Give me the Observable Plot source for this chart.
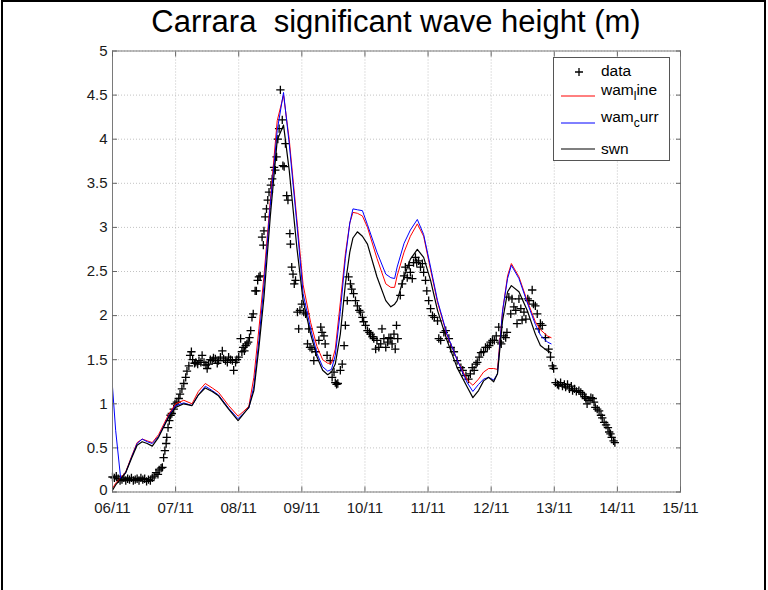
<!DOCTYPE html>
<html>
<head>
<meta charset="utf-8">
<script src="https://cdn.jsdelivr.net/npm/d3@7"></script>
<script src="https://cdn.jsdelivr.net/npm/@observablehq/plot@0.6"></script>
<style>
  body { margin: 0; background: #fff; }
  #wrap { position: relative; width: 768px; height: 590px; overflow: hidden; background: #fff;
          font-family: "Liberation Sans", Arial, Helvetica, sans-serif; }
  #border { position: absolute; left: 1px; top: 0; width: 761px; height: 620px;
            border: 2px solid #000; border-bottom: none; box-sizing: content-box; }
  #title { position: absolute; left: 112px; width: 568px; top: 4px; text-align: center;
           font-size: 31px; line-height: 36px; white-space: pre; color: #000; }
  #chart { position: absolute; left: 0; top: 0; }
  #legend { position: absolute; left: 553px; top: 57px; }
</style>
</head>
<body>
<div id="wrap">
  <div id="chart"></div>
  <div id="title">Carrara  significant wave height (m)</div>
  <svg id="legend" width="118" height="105" xmlns="http://www.w3.org/2000/svg"
       style="font-family:'Liberation Sans', Arial, sans-serif; font-size:15.5px;">
    <rect x="0.5" y="0.5" width="116" height="103" fill="#fff" stroke="#555" stroke-width="1"/>
    <path d="M22,15H30M26,11V19" stroke="#000" stroke-width="1.3" fill="none"/>
    <text x="48" y="19" fill="#000">data</text>
    <line x1="8" x2="42" y1="39" y2="39" stroke="#ff0000" stroke-width="1"/>
    <text x="48" y="38" fill="#000">wam<tspan dy="5" font-size="12">l</tspan><tspan dy="-5">ine</tspan></text>
    <line x1="8" x2="42" y1="66" y2="66" stroke="#0000ff" stroke-width="1"/>
    <text x="48" y="65" fill="#000">wam<tspan dy="5" font-size="12">c</tspan><tspan dy="-5">urr</tspan></text>
    <line x1="8" x2="42" y1="92" y2="92" stroke="#000" stroke-width="1.2"/>
    <text x="48" y="97" fill="#000">swn</text>
  </svg>
  <div id="border"></div>
</div>
<script>
// ---- axis ticks ----
const xTicks = [0, 1, 2, 3, 4, 5, 6, 7, 8, 9];
const xTickLabels = ["06/11", "07/11", "08/11", "09/11", "10/11", "11/11", "12/11", "13/11", "14/11", "15/11"];
const yTicks = [0, 0.5, 1, 1.5, 2, 2.5, 3, 3.5, 4, 4.5, 5];
const yTickLabels = ["0", "0.5", "1", "1.5", "2", "2.5", "3", "3.5", "4", "4.5", "5"];

// ---- observed data (days since 06/11 00:00, Hs in m) ----
const dataT = [0.00,0.03,0.06,0.09,0.12,0.15,0.18,0.21,0.24,0.27,0.30,0.33,0.36,0.39,0.42,0.45,0.48,0.51,0.54,0.57,0.60,0.63,0.66,0.69,0.72,0.74,0.77,0.79,0.81,0.83,0.85,0.86,0.88,0.90,0.92,0.94,0.97,0.99,1.02,1.05,1.07,1.10,1.13,1.16,1.18,1.21,1.23,1.25,1.27,1.30,1.32,1.35,1.37,1.40,1.42,1.45,1.48,1.50,1.52,1.55,1.58,1.60,1.63,1.66,1.68,1.71,1.74,1.76,1.79,1.82,1.84,1.87,1.90,1.92,1.95,1.97,2.00,2.03,2.05,2.07,2.09,2.11,2.13,2.15,2.17,2.19,2.21,2.23,2.26,2.28,2.30,2.32,2.34,2.37,2.39,2.40,2.42,2.44,2.46,2.48,2.51,2.53,2.56,2.58,2.60,2.62,2.64,2.66,2.69,2.70,2.72,2.74,2.76,2.78,2.81,2.82,2.84,2.86,2.88,2.90,2.93,2.95,2.97,3.00,3.03,3.06,3.09,3.11,3.13,3.16,3.19,3.22,3.27,3.30,3.32,3.35,3.37,3.40,3.45,3.48,3.51,3.53,3.55,3.57,3.61,3.64,3.67,3.69,3.72,3.74,3.77,3.79,3.82,3.85,3.88,3.91,3.93,3.96,3.98,4.01,4.04,4.07,4.09,4.12,4.14,4.17,4.19,4.22,4.25,4.27,4.30,4.33,4.36,4.38,4.41,4.43,4.46,4.48,4.50,4.52,4.56,4.59,4.62,4.64,4.67,4.70,4.72,4.75,4.77,4.80,4.82,4.85,4.88,4.91,4.93,4.96,4.98,5.01,5.04,5.07,5.10,5.15,5.17,5.20,5.25,5.28,5.33,5.36,5.41,5.46,5.52,5.55,5.60,5.64,5.67,5.70,5.73,5.76,5.78,5.81,5.84,5.88,5.91,5.94,5.97,5.99,6.02,6.05,6.08,6.12,6.14,6.16,6.20,6.23,6.25,6.28,6.31,6.33,6.36,6.39,6.41,6.44,6.47,6.49,6.52,6.55,6.58,6.60,6.65,6.67,6.70,6.73,6.76,6.78,6.81,6.86,6.91,6.94,6.97,6.99,7.02,7.05,7.07,7.10,7.13,7.16,7.18,7.21,7.24,7.27,7.29,7.32,7.35,7.39,7.42,7.45,7.48,7.50,7.52,7.55,7.58,7.61,7.63,7.65,7.68,7.71,7.74,7.76,7.79,7.82,7.85,7.87,7.89,7.91,7.94,7.96];
const dataH = [0.17,0.16,0.18,0.15,0.13,0.14,0.16,0.13,0.15,0.14,0.16,0.13,0.14,0.15,0.13,0.16,0.14,0.15,0.12,0.14,0.13,0.16,0.18,0.22,0.20,0.25,0.27,0.28,0.39,0.47,0.55,0.62,0.73,0.81,0.87,0.89,0.94,1.00,1.02,1.06,1.11,1.17,1.23,1.30,1.37,1.43,1.55,1.59,1.50,1.46,1.47,1.45,1.49,1.47,1.55,1.47,1.44,1.40,1.45,1.50,1.49,1.52,1.51,1.46,1.49,1.53,1.60,1.51,1.49,1.47,1.53,1.50,1.49,1.38,1.47,1.50,1.53,1.74,1.59,1.64,1.60,1.66,1.68,1.70,1.75,1.83,1.98,2.02,2.28,2.28,2.40,2.44,2.45,2.89,2.80,2.96,3.12,3.21,3.31,3.40,3.48,3.55,3.68,3.65,3.80,4.00,4.12,4.56,4.22,3.70,3.69,3.95,3.36,3.31,2.93,2.81,2.55,2.47,2.36,2.40,2.04,1.85,2.06,2.13,2.04,2.02,1.68,1.85,1.64,1.62,1.49,1.59,1.72,1.87,1.81,1.77,1.68,1.55,1.49,1.30,1.36,1.24,1.22,1.23,1.38,1.45,1.66,1.89,2.17,2.44,2.36,2.30,2.25,2.17,2.11,2.06,2.04,1.98,1.93,1.89,1.83,1.81,1.79,1.76,1.74,1.62,1.72,1.64,1.68,1.85,1.74,1.64,1.70,1.75,1.74,1.68,1.79,1.62,1.89,1.74,2.23,2.36,2.45,2.55,2.43,2.57,2.49,2.42,2.60,2.66,2.60,2.62,2.55,2.59,2.49,2.40,2.28,2.17,2.08,2.00,1.98,1.94,1.74,1.72,1.81,1.83,1.74,1.64,1.59,1.49,1.41,1.38,1.32,1.28,1.34,1.41,1.38,1.45,1.47,1.53,1.58,1.59,1.64,1.64,1.66,1.70,1.72,1.72,1.77,1.87,1.70,1.68,1.77,1.75,1.81,2.21,2.02,2.19,2.10,2.06,1.91,2.19,2.08,1.95,2.04,1.96,2.19,2.17,2.29,2.13,2.11,2.02,1.85,1.91,1.89,1.75,1.62,1.53,1.43,1.40,1.24,1.22,1.21,1.24,1.20,1.22,1.19,1.22,1.17,1.20,1.15,1.17,1.14,1.15,1.13,1.11,1.08,1.06,1.00,1.04,1.07,1.06,1.02,0.96,0.94,0.92,0.87,0.84,0.79,0.76,0.73,0.68,0.66,0.62,0.58,0.56];

// ---- model series (common time grid, days since 06/11) ----
const modelT  = [0.00,0.05,0.13,0.21,0.30,0.39,0.47,0.55,0.63,0.73,0.89,1.00,1.13,1.26,1.36,1.47,1.58,1.68,1.84,1.99,2.07,2.16,2.24,2.32,2.40,2.50,2.61,2.71,2.80,2.92,3.02,3.14,3.24,3.33,3.41,3.47,3.53,3.61,3.69,3.76,3.81,3.88,3.96,4.04,4.19,4.33,4.41,4.47,4.51,4.62,4.72,4.83,4.93,5.04,5.15,5.30,5.46,5.62,5.71,5.80,5.88,5.96,6.04,6.10,6.18,6.26,6.32,6.44,6.57,6.70,6.78,6.89,6.95];
const swn     = [0.02,0.08,0.15,0.22,0.38,0.53,0.57,0.55,0.52,0.62,0.85,0.96,1.00,0.98,1.10,1.18,1.14,1.09,0.94,0.81,0.88,0.96,1.15,1.64,2.21,3.12,3.99,4.16,3.65,2.78,2.17,1.79,1.53,1.38,1.33,1.36,1.45,1.79,2.36,2.72,2.88,2.95,2.90,2.81,2.44,2.17,2.10,2.13,2.17,2.44,2.64,2.75,2.66,2.40,2.06,1.72,1.41,1.19,1.07,1.15,1.26,1.30,1.25,1.34,1.94,2.27,2.34,2.27,2.06,1.79,1.66,1.60,1.58];
const wamLine = [0.04,0.10,0.16,0.23,0.40,0.56,0.60,0.58,0.56,0.65,0.88,1.00,1.04,1.00,1.14,1.23,1.18,1.13,0.98,0.86,0.91,0.97,1.30,1.85,2.45,3.30,4.21,4.50,4.00,3.10,2.35,1.92,1.65,1.50,1.46,1.46,1.62,2.15,2.70,3.05,3.17,3.16,3.13,3.00,2.65,2.36,2.32,2.32,2.45,2.72,2.90,3.04,2.90,2.52,2.15,1.78,1.50,1.27,1.21,1.28,1.36,1.40,1.40,1.39,2.05,2.45,2.59,2.44,2.17,1.93,1.84,1.77,1.75];
const wamCurr = [1.19,0.70,0.15,0.22,0.39,0.55,0.60,0.57,0.55,0.63,0.86,0.98,1.01,0.98,1.10,1.20,1.15,1.10,0.95,0.83,0.89,0.95,1.20,1.72,2.35,3.25,4.10,4.53,3.95,3.05,2.25,1.85,1.57,1.42,1.37,1.39,1.55,2.05,2.65,3.05,3.21,3.20,3.19,3.03,2.72,2.47,2.43,2.42,2.55,2.82,2.97,3.09,2.92,2.55,2.17,1.79,1.50,1.24,1.14,1.22,1.28,1.30,1.27,1.34,2.05,2.42,2.57,2.42,2.15,1.90,1.78,1.70,1.68];

const obs = dataT.map((t, i) => ({t, h: dataH[i]}));
const model = modelT.map((t, i) => ({t, swn: swn[i], line: wamLine[i], curr: wamCurr[i]}));

const gridStyle = {stroke: "#b4b4b4", strokeOpacity: 1, strokeWidth: 0.8, strokeDasharray: "1,2"};
const tickStyle = {stroke: "#666", label: null};

const chart = Plot.plot({
  width: 768,
  height: 590,
  marginLeft: 112,
  marginRight: 88,
  marginTop: 50.5,
  marginBottom: 98.5,
  style: {fontFamily: "'Liberation Sans', Arial, sans-serif", fontSize: "15px", color: "#1a1a1a", background: "transparent", overflow: "visible"},
  x: {domain: [0, 9], label: null},
  y: {domain: [0, 5], label: null},
  marks: [
    Plot.gridX(xTicks, gridStyle),
    Plot.gridY(yTicks, gridStyle),
    Plot.dot(obs, {x: "t", y: "h", symbol: "plus", r: 2.8, stroke: "#000", strokeWidth: 1.3}),
    Plot.line(model, {x: "t", y: "line", stroke: "#ff0000", strokeWidth: 1}),
    Plot.line(model, {x: "t", y: "curr", stroke: "#0000ff", strokeWidth: 1}),
    Plot.line(model, {x: "t", y: "swn", stroke: "#000", strokeWidth: 1.2}),
    Plot.frame({stroke: "#7a7a7a", strokeWidth: 1}),
    Plot.axisX(xTicks, {anchor: "bottom", tickSize: -5, tickFormat: () => "", ...tickStyle}),
    Plot.axisX(xTicks, {anchor: "top", tickSize: -5, tickFormat: () => "", ...tickStyle}),
    Plot.axisY(yTicks, {anchor: "left", tickSize: -5, tickFormat: () => "", ...tickStyle}),
    Plot.axisY(yTicks, {anchor: "right", tickSize: -5, tickFormat: () => "", ...tickStyle}),
    Plot.axisX(xTicks, {anchor: "bottom", tickSize: 0, tickPadding: 10, label: null,
      tickFormat: d => xTickLabels[xTicks.indexOf(d)]}),
    Plot.axisY(yTicks.slice(1), {anchor: "left", tickSize: 0, tickPadding: 5, label: null,
      tickFormat: d => yTickLabels[yTicks.indexOf(d)]}),
    Plot.axisY(yTicks.slice(0, 1), {anchor: "left", tickSize: 0, tickPadding: 5, label: null, dy: -2,
      tickFormat: d => yTickLabels[yTicks.indexOf(d)]})
  ]
});
document.getElementById("chart").appendChild(chart);
</script>
</body>
</html>
